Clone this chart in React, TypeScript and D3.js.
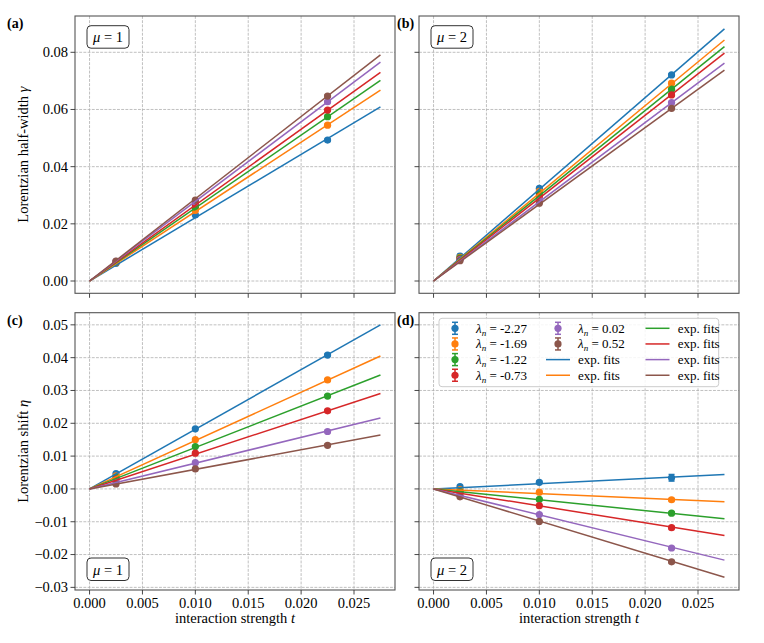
import React from "react";
import * as d3 from "d3";

const T_POINTS = [0.0025, 0.01, 0.0225];
const T_FIT = [0, 0.0275];
const LAMBDAS = ["-2.27", "-1.69", "-1.22", "-0.73", "0.02", "0.52"];
const COLORS = ["#1f77b4", "#ff7f0e", "#2ca02c", "#d62728", "#9467bd", "#8c564b"];

// Lorentzian half-width gamma, mu = 1 (rows: lambda, cols: T_POINTS)
const GAMMA_MU1 = [
  [0.0062, 0.0231, 0.0493],
  [0.0064, 0.0247, 0.0545],
  [0.0066, 0.0258, 0.0575],
  [0.0067, 0.0268, 0.0598],
  [0.0069, 0.0277, 0.0627],
  [0.0070, 0.0283, 0.0647],
];
const GAMMA_MU1_FIT_END = [0.0609, 0.0668, 0.0702, 0.0730, 0.0766, 0.0791];

// Lorentzian half-width gamma, mu = 2
const GAMMA_MU2 = [
  [0.0087, 0.0324, 0.0721],
  [0.0083, 0.0314, 0.0692],
  [0.0080, 0.0305, 0.0671],
  [0.0077, 0.0296, 0.0651],
  [0.0074, 0.0283, 0.0624],
  [0.0071, 0.0272, 0.0604],
];
const GAMMA_MU2_FIT_END = [0.0882, 0.0843, 0.0820, 0.0797, 0.0762, 0.0738];

// Lorentzian shift eta, mu = 1
const ETA_MU1 = [
  [0.0047, 0.0183, 0.0408],
  [0.0040, 0.0150, 0.0332],
  [0.0035, 0.0129, 0.0283],
  [0.0030, 0.0109, 0.0238],
  [0.0022, 0.0080, 0.0175],
  [0.0015, 0.0061, 0.0133],
];
const ETA_MU1_FIT_END = [0.0500, 0.0405, 0.0347, 0.0291, 0.0216, 0.0164];

// Lorentzian shift eta, mu = 2
const ETA_MU2 = [
  [0.0007, 0.0020, 0.0034],
  [-0.0002, -0.0010, -0.0033],
  [-0.0008, -0.0032, -0.0074],
  [-0.0012, -0.0051, -0.0118],
  [-0.0020, -0.0078, -0.0180],
  [-0.0024, -0.0099, -0.0222],
];
const ETA_MU2_FIT_END = [0.0044, -0.0039, -0.0091, -0.0142, -0.0217, -0.0269];
const ETA_MU2_ERR = [
  [0.0003, 0.0003, 0.0010],
  [0.0002, 0.0002, 0.0004],
  [0.0002, 0.0002, 0.0004],
  [0.0002, 0.0002, 0.0004],
  [0.0002, 0.0002, 0.0004],
  [0.0002, 0.0002, 0.0004],
];

const X_TICKS = [0, 0.005, 0.01, 0.015, 0.02, 0.025];
const GAMMA_TICKS = [0, 0.02, 0.04, 0.06, 0.08];
const ETA_TICKS = [-0.03, -0.02, -0.01, 0, 0.01, 0.02, 0.03, 0.04, 0.05];

const FONT = "'Liberation Serif', 'Times New Roman', serif";
const X_DOMAIN: [number, number] = [-0.001375, 0.028875];
const GAMMA_DOMAIN: [number, number] = [-0.0043, 0.0927];
const ETA_DOMAIN: [number, number] = [-0.0308, 0.0537];

type PanelProps = {
  x0: number; x1: number; y0: number; y1: number;
  yDomain: [number, number]; yTicks: number[];
  pts: number[][]; fitEnd: number[]; err?: number[][];
  showYLabels: boolean; showXLabels: boolean;
  letter: string; letterX: number; letterY: number;
  mu: string; boxX: number; boxY: number;
  legend?: boolean;
  yFormat: (v: number) => string;
};

const minusFmt = (f: string) => (v: number) => d3.format(f)(v).replace("-", "\u2212");

function Panel(p: PanelProps) {
  const xs = d3.scaleLinear().domain(X_DOMAIN).range([p.x0, p.x1]);
  const ys = d3.scaleLinear().domain(p.yDomain).range([p.y1, p.y0]);
  const line = d3.line<[number, number]>().x((d) => xs(d[0])).y((d) => ys(d[1]));
  const gridColor = "#b0b0b0";
  return (
    <g>
      {X_TICKS.map((t) => (
        <line key={"gx" + t} x1={xs(t)} x2={xs(t)} y1={p.y0} y2={p.y1} stroke={gridColor} strokeWidth={0.8} strokeDasharray="2.9,1.3" />
      ))}
      {p.yTicks.map((t) => (
        <line key={"gy" + t} x1={p.x0} x2={p.x1} y1={ys(t)} y2={ys(t)} stroke={gridColor} strokeWidth={0.8} strokeDasharray="2.9,1.3" />
      ))}
      {p.pts.map((row, i) => (
        <g key={"eb" + i}>
          {row.map((v, j) => {
            const e = p.err ? p.err[i][j] : j === 2 ? 0.0004 : 0.0002;
            const cx = xs(T_POINTS[j]);
            return (
              <g key={j}>
                <line x1={cx} x2={cx} y1={ys(v - e)} y2={ys(v + e)} stroke={COLORS[i]} strokeWidth={1.5} />
                <line x1={cx - 3} x2={cx + 3} y1={ys(v - e)} y2={ys(v - e)} stroke={COLORS[i]} strokeWidth={1.5} />
                <line x1={cx - 3} x2={cx + 3} y1={ys(v + e)} y2={ys(v + e)} stroke={COLORS[i]} strokeWidth={1.5} />
                <circle cx={cx} cy={ys(v)} r={3.6} fill={COLORS[i]} />
              </g>
            );
          })}
        </g>
      ))}
      {p.fitEnd.map((v, i) => (
        <path key={"fit" + i} d={line([[T_FIT[0], 0], [T_FIT[1], v]]) || ""} stroke={COLORS[i]} strokeWidth={1.5} fill="none" />
      ))}
      <rect x={p.x0} y={p.y0} width={p.x1 - p.x0} height={p.y1 - p.y0} fill="none" stroke="#555" strokeWidth={1.1} />
      {X_TICKS.map((t) => (
        <g key={"xt" + t}>
          <line x1={xs(t)} x2={xs(t)} y1={p.y1} y2={p.y1 + 4.5} stroke="#333" strokeWidth={0.9} />
          {p.showXLabels && (
            <text x={xs(t)} y={p.y1 + 18} textAnchor="middle" fontSize={14.5} fontFamily={FONT} fill="#000">
              {d3.format(".3f")(t)}
            </text>
          )}
        </g>
      ))}
      {p.yTicks.map((t) => (
        <g key={"yt" + t}>
          <line x1={p.x0 - 4.5} x2={p.x0} y1={ys(t)} y2={ys(t)} stroke="#333" strokeWidth={0.9} />
          {p.showYLabels && (
            <text x={p.x0 - 7} y={ys(t)} dy="0.34em" textAnchor="end" fontSize={14.5} fontFamily={FONT} fill="#000">
              {p.yFormat(t)}
            </text>
          )}
        </g>
      ))}
      <text x={p.letterX} y={p.letterY} fontSize={14} fontWeight="bold" fontFamily={FONT} fill="#000">
        {p.letter}
      </text>
      <rect x={p.boxX} y={p.boxY} width={42} height={22.5} rx={4} ry={4} fill="#fff" stroke="#333" strokeWidth={1} />
      <text x={p.boxX + 21} y={p.boxY + 16.5} textAnchor="middle" fontSize={14.5} fontFamily={FONT} fill="#000">
        <tspan fontStyle="italic">μ</tspan>
        <tspan> = {p.mu}</tspan>
      </text>
      {p.legend && <Legend />}
    </g>
  );
}

function Legend() {
  const bx = 439, by = 318.3, bw = 279.7, bh = 68.4;
  const rowY = (r: number) => 328.3 + r * 15.65;
  const cols = [455, 558, 657.5];
  const textX = [476, 578, 677.7];
  const items: { type: "eb" | "line"; i: number }[] = [];
  LAMBDAS.forEach((_, i) => items.push({ type: "eb", i }));
  LAMBDAS.forEach((_, i) => items.push({ type: "line", i }));
  return (
    <g>
      <rect x={bx} y={by} width={bw} height={bh} rx={3} ry={3} fill="#fff" fillOpacity={0.85} stroke="#cccccc" strokeWidth={1} />
      {items.map((it, k) => {
        const c = Math.floor(k / 4), r = k % 4;
        const cx = cols[c], cy = rowY(r);
        const col = COLORS[it.i];
        return (
          <g key={k}>
            {it.type === "eb" ? (
              <g>
                <line x1={cx} x2={cx} y1={cy - 6} y2={cy + 6} stroke={col} strokeWidth={1.5} />
                <line x1={cx - 3} x2={cx + 3} y1={cy - 6} y2={cy - 6} stroke={col} strokeWidth={1.5} />
                <line x1={cx - 3} x2={cx + 3} y1={cy + 6} y2={cy + 6} stroke={col} strokeWidth={1.5} />
                <circle cx={cx} cy={cy} r={3.6} fill={col} />
              </g>
            ) : (
              <line x1={cx - 12} x2={cx + 12} y1={cy} y2={cy} stroke={col} strokeWidth={1.5} />
            )}
            <text x={textX[c]} y={cy + 4.5} fontSize={13} fontFamily={FONT} fill="#000">
              {it.type === "eb" ? (
                <>
                  <tspan fontStyle="italic">λ</tspan>
                  <tspan fontStyle="italic" fontSize={9} dy={3}>n</tspan>
                  <tspan dy={-3}> = {LAMBDAS[it.i]}</tspan>
                </>
              ) : (
                "exp. fits"
              )}
            </text>
          </g>
        );
      })}
    </g>
  );
}

export default function App() {
  const L = 75, R = 395, L2 = 419, R2 = 739;
  const T1 = 16, B1 = 293.3, T2 = 312.7, B2 = 590;
  return (
    <svg width={764} height={643} style={{ position: "absolute", left: 0, top: 0, background: "#fff" }}>
      <rect width={764} height={643} fill="#fff" />
      <Panel x0={L} x1={R} y0={T1} y1={B1} yDomain={GAMMA_DOMAIN} yTicks={GAMMA_TICKS}
        pts={GAMMA_MU1} fitEnd={GAMMA_MU1_FIT_END} showYLabels showXLabels={false}
        letter="(a)" letterX={7} letterY={28} mu="1" boxX={87} boxY={25.7} yFormat={minusFmt(".2f")} />
      <Panel x0={L2} x1={R2} y0={T1} y1={B1} yDomain={GAMMA_DOMAIN} yTicks={GAMMA_TICKS}
        pts={GAMMA_MU2} fitEnd={GAMMA_MU2_FIT_END} showYLabels={false} showXLabels={false}
        letter="(b)" letterX={397} letterY={28} mu="2" boxX={431} boxY={25.7} yFormat={minusFmt(".2f")} />
      <Panel x0={L} x1={R} y0={T2} y1={B2} yDomain={ETA_DOMAIN} yTicks={ETA_TICKS}
        pts={ETA_MU1} fitEnd={ETA_MU1_FIT_END} showYLabels showXLabels
        letter="(c)" letterX={7} letterY={325} mu="1" boxX={87} boxY={558} yFormat={minusFmt(".2f")} />
      <Panel x0={L2} x1={R2} y0={T2} y1={B2} yDomain={ETA_DOMAIN} yTicks={ETA_TICKS}
        pts={ETA_MU2} fitEnd={ETA_MU2_FIT_END} err={ETA_MU2_ERR} showYLabels={false} showXLabels
        letter="(d)" letterX={397} letterY={325} mu="2" boxX={431} boxY={558} legend yFormat={minusFmt(".2f")} />
      <text x={235} y={623} textAnchor="middle" fontSize={14.5} fontFamily={FONT}>
        interaction strength <tspan fontStyle="italic">t</tspan>
      </text>
      <text x={579} y={623} textAnchor="middle" fontSize={14.5} fontFamily={FONT}>
        interaction strength <tspan fontStyle="italic">t</tspan>
      </text>
      <text transform={`translate(27.5,${(T1 + B1) / 2}) rotate(-90)`} textAnchor="middle" fontSize={14.5} fontFamily={FONT}>
        Lorentzian half-width <tspan fontStyle="italic">γ</tspan>
      </text>
      <text transform={`translate(27.5,${(T2 + B2) / 2}) rotate(-90)`} textAnchor="middle" fontSize={14.5} fontFamily={FONT}>
        Lorentzian shift <tspan fontStyle="italic">η</tspan>
      </text>
    </svg>
  );
}
